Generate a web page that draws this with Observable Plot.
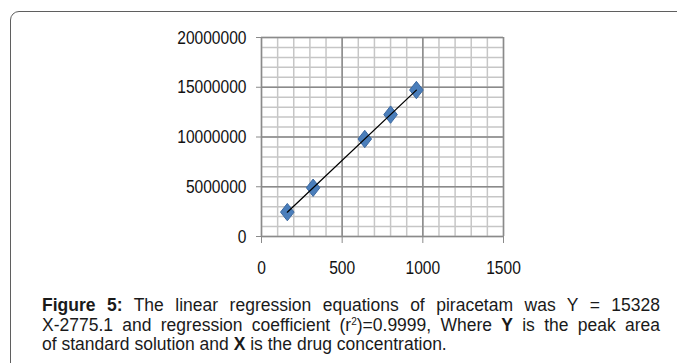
<!DOCTYPE html>
<html>
<head>
<meta charset="utf-8">
<script src="https://cdn.jsdelivr.net/npm/d3@7"></script>
<script src="https://cdn.jsdelivr.net/npm/@observablehq/plot@0.6"></script>
<style>
  html, body { margin: 0; padding: 0; background: #fff; width: 677px; height: 363px; overflow: hidden; }
  #frame { position: absolute; left: 10px; top: 11px; width: 720px; height: 420px;
           border: 1.5px solid #5f5f5f; border-radius: 9px; box-sizing: border-box; }
  #chart { position: absolute; left: 0; top: 0; }
  #caption { position: absolute; left: 42px; top: 296px; width: 618px;
             font-family: "Liberation Sans", Arial, sans-serif; font-size: 17.5px; line-height: 19.5px; color: #1a1a1a; }
  #caption div { text-align: justify; text-align-last: justify; white-space: nowrap; }
  #caption div.last { text-align-last: left; }
</style>
</head>
<body>
<div id="frame"></div>
<div id="chart"></div>
<div id="caption">
  <div><b>Figure 5:</b> The linear regression equations of piracetam was Y = 15328</div>
  <div>X-2775.1 and regression coefficient (r<sup style="font-size:10px;line-height:0;vertical-align:6px">2</sup>)=0.9999, Where <b>Y</b> is the peak area</div>
  <div class="last">of standard solution and <b>X</b> is the drug concentration.</div>
</div>
<script>
// Data
const concentration = [160, 320, 640, 800, 960];
const peakArea = [2450000, 4900000, 9800000, 12250000, 14720000];
const xTicks = [0, 500, 1000, 1500];
const yTicks = [0, 5000000, 10000000, 15000000, 20000000];

const data = concentration.map((x, i) => ({x, y: peakArea[i]}));
const xMinor = d3.range(0, 1501, 100);
const yMinor = d3.range(0, 20000001, 1000000);

const diamond = {
  draw(context, size) {
    const r = Math.sqrt(size / Math.PI);
    const w = r * 0.78;
    context.moveTo(0, -r);
    context.lineTo(w, 0);
    context.lineTo(0, r);
    context.lineTo(-w, 0);
    context.closePath();
  }
};

const tickFont = "'Liberation Sans', Arial, sans-serif";

const plot = Plot.plot({
  width: 677,
  height: 290,
  marginLeft: 261,
  marginRight: 174,
  marginTop: 37,
  marginBottom: 54,
  style: {background: "transparent", fontFamily: tickFont, fontSize: "19px", color: "#111"},
  x: {domain: [0, 1500]},
  y: {domain: [0, 20000000]},
  marks: [
    Plot.gridX(xMinor, {stroke: "#c6c6c6", strokeOpacity: 1, strokeWidth: 1.5}),
    Plot.gridY(yMinor, {stroke: "#c6c6c6", strokeOpacity: 1, strokeWidth: 1.5}),
    Plot.gridX(xTicks, {stroke: "#8a8a8a", strokeOpacity: 1, strokeWidth: 1.5}),
    Plot.gridY(yTicks, {stroke: "#8a8a8a", strokeOpacity: 1, strokeWidth: 1.5}),
    Plot.axisY(yTicks, {tickSize: 5, tickPadding: 10, tickFormat: d => String(d), stroke: "#8a8a8a", fill: "#111", fontSize: 19, label: null}),
    Plot.axisX(xTicks, {tickSize: 7, tickPadding: 17, tickFormat: d => String(d), stroke: "#8a8a8a", fill: "#111", fontSize: 19, label: null}),
    Plot.dot(data, {x: "x", y: "y", symbol: diamond, r: 8.7, fill: "#4a7ebb", stroke: "#3b68a0", strokeWidth: 1}),
    Plot.linearRegressionY(data, {x: "x", y: "y", ci: 0, stroke: "#000", strokeWidth: 1.3})
  ]
});
// Condense tick labels horizontally (Calibri-like narrow digits)
plot.querySelectorAll("g[aria-label$='tick label'] text").forEach(t => {
  const tr = t.getAttribute("transform") || "";
  t.setAttribute("transform", tr + " scale(0.82,1)");
});
document.getElementById("chart").appendChild(plot);
</script>
</body>
</html>
